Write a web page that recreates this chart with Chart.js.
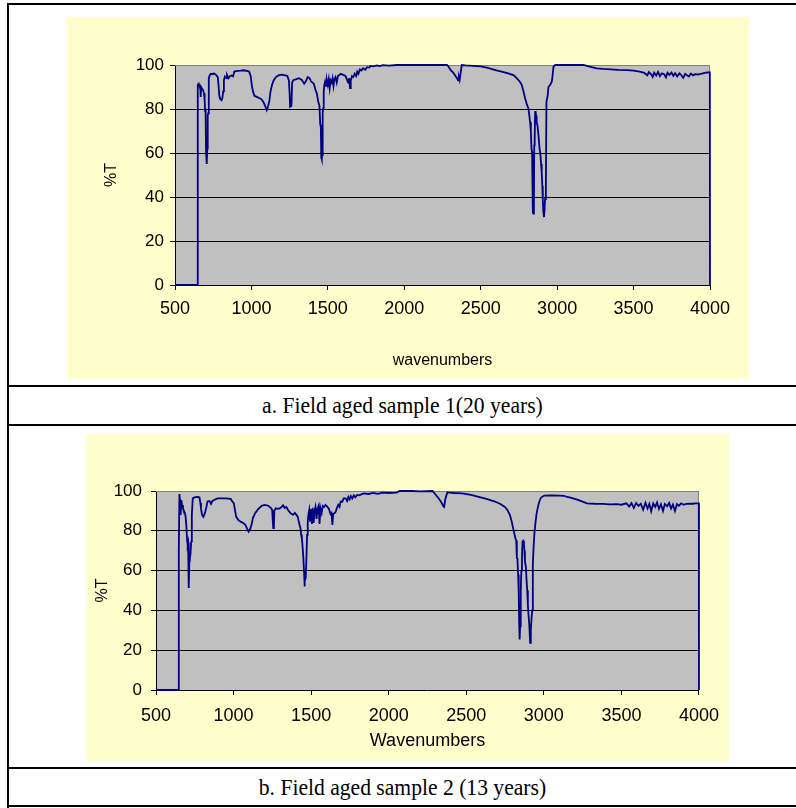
<!DOCTYPE html>
<html>
<head>
<meta charset="utf-8">
<script src="https://cdn.jsdelivr.net/npm/chart.js@4"></script>
<style>
body { margin: 0; background: #fff; width: 796px; height: 808px; position: relative; overflow: hidden; }
.hline { position: absolute; background: #000; height: 2px; left: 7px; width: 789px; }
.vline { position: absolute; background: #000; width: 2px; left: 7px; top: 3px; height: 805px; }
.caption { position: absolute; left: 9px; width: 787px; text-align: center; font-family: "Liberation Serif", "Times New Roman", serif; font-size: 24px; color: #000; transform: scaleX(0.9); transform-origin: 393px 0; }
canvas { position: absolute; background: #ffffcc; }
</style>
</head>
<body>
<div class="vline"></div>
<div class="hline" style="top:3px"></div>
<div class="hline" style="top:385px"></div>
<div class="hline" style="top:424px"></div>
<div class="hline" style="top:767px"></div>
<div class="hline" style="top:805px"></div>

<canvas id="chartA" width="682" height="362" style="left:67px; top:17px;"></canvas>
<div class="caption" style="top:387px; height:37px; line-height:37px;">a. Field aged sample 1(20 years)</div>

<canvas id="chartB" width="643" height="327" style="left:86px; top:434px;"></canvas>
<div class="caption" style="top:769px; height:36px; line-height:36px;">b. Field aged sample 2 (13 years)</div>

<script>
// Axis ticks
const xTicks = [500, 1000, 1500, 2000, 2500, 3000, 3500, 4000];
const yTicks = [0, 20, 40, 60, 80, 100];

// Sample 1 (20 years) - wavenumber / %T
const waveA = [500, 648, 649, 655, 662, 666, 668, 671, 678, 684, 690, 694, 697, 700, 703, 706, 709, 711, 714, 717,
  720, 722, 728, 735, 748, 755, 770, 780, 786, 790, 796, 804, 810, 815, 820, 826, 835, 840, 850, 860,
  870, 880, 888, 910, 930, 950, 970, 985, 995, 1002, 1010, 1020, 1035, 1050, 1065, 1080, 1092, 1100, 1110, 1118,
  1125, 1135, 1145, 1160, 1180, 1200, 1220, 1235, 1245, 1250, 1253, 1258, 1262, 1266, 1275, 1290, 1310, 1330, 1345, 1355,
  1368, 1380, 1390, 1400, 1408, 1418, 1428, 1438, 1445, 1450, 1454, 1457, 1460, 1463, 1466, 1470, 1473, 1477, 1482, 1488,
  1494, 1500, 1506, 1512, 1518, 1525, 1531, 1537, 1543, 1550, 1558, 1566, 1575, 1585, 1600, 1615, 1625, 1632, 1638, 1645,
  1650, 1658, 1667, 1675, 1685, 1692, 1700, 1710, 1720, 1730, 1745, 1755, 1770, 1780, 1800, 1820, 1840, 1860, 1900, 1950,
  2000, 2100, 2200, 2280, 2292, 2305, 2320, 2335, 2345, 2352, 2357, 2362, 2368, 2376, 2400, 2450, 2500, 2540, 2580, 2610,
  2650, 2690, 2714, 2735, 2755, 2768, 2778, 2790, 2800, 2812, 2818, 2823, 2828, 2832, 2836, 2840, 2842, 2845, 2848, 2850,
  2853, 2856, 2859, 2862, 2866, 2871, 2878, 2885, 2890, 2895, 2899, 2903, 2906, 2910, 2914, 2917, 2921, 2926, 2930, 2938,
  2943, 2955, 2965, 2970, 2976, 2987, 3050, 3100, 3172, 3200, 3259, 3300, 3350, 3400, 3456, 3500, 3540, 3570, 3590, 3600,
  3615, 3625, 3635, 3648, 3660, 3672, 3685, 3700, 3712, 3722, 3735, 3748, 3760, 3772, 3785, 3800, 3812, 3825, 3838, 3850,
  3862, 3875, 3890, 3905, 3920, 3940, 3960, 3980, 3999, 4000];
const transA = [0, 0, 91, 91.5, 90, 89, 85.5, 90, 89, 88.5, 87, 84, 79, 80, 61, 60, 55, 62, 77, 78,
  80, 94, 95.5, 96, 95.8, 96.2, 95.4, 94.5, 90, 86, 84.5, 84, 85, 88, 93, 94.7, 94, 95.5, 94, 95,
  95.2, 94.8, 97, 97.3, 97.4, 97.6, 97.3, 97, 95, 91, 88, 86, 85.5, 85, 84.5, 83, 81, 79.5, 81.5, 84,
  88, 91, 93, 94.5, 95.4, 95.6, 95.3, 95, 93, 87, 81, 81, 81.5, 92, 93.2, 93.5, 94, 93.2, 91.5, 92.5,
  94.5, 94, 92.5, 92, 91.5, 89, 87, 83, 81.5, 73, 72, 58, 57.2, 59, 78, 80.5, 88, 91, 92.5, 90.5,
  93, 91, 93.5, 89.5, 93, 92, 94, 90.5, 93.5, 94.5, 92, 95, 95.5, 96, 95.5, 95, 93.5, 92, 94, 89.5,
  93, 95, 94.5, 96, 95, 97, 96, 98, 97.5, 98.5, 97.8, 99, 98.8, 99.6, 99.4, 99.8, 99.5, 99.9, 99.7, 100,
  100, 100, 100, 100, 99, 97.5, 96.5, 95, 94, 93, 94.5, 93.2, 96, 100, 99.8, 99.6, 99.4, 98.8, 98, 97.4,
  96.8, 96, 95.4, 94, 92.5, 91, 88.5, 85, 82.5, 80.2, 77, 74, 70, 62, 60.5, 40, 33, 32.5, 34, 63.5,
  66, 78.7, 79, 77, 74, 72.6, 68, 62, 60, 55, 51.4, 45, 39, 33, 30.9, 33.5, 39, 40, 83.3, 86,
  90, 91, 92.4, 95, 99.2, 100, 100, 100, 100, 99.5, 98.5, 98.2, 98, 97.8, 97.7, 97.4, 97, 96.4, 95.3, 96.8,
  95.8, 94.6, 96.5, 95.2, 96.9, 94.9, 96.2, 95.8, 94.4, 96.5, 95.5, 96.6, 95.1, 96.3, 94.8, 96.2, 95.4, 94.2, 96, 95.3,
  94.8, 96.1, 95.3, 95.9, 95.6, 96, 96.3, 96.6, 96.6, 0];

// Sample 2 (13 years)
const waveB = [500, 644, 646, 648, 651, 655, 659, 663, 668, 674, 680, 686, 691, 696, 701, 704, 707, 710, 712, 715,
  718, 722, 727, 731, 737, 748, 765, 780, 786, 790, 797, 805, 811, 817, 825, 832, 845, 855, 864, 875,
  896, 920, 950, 981, 990, 1002, 1010, 1017, 1030, 1045, 1060, 1076, 1088, 1097, 1108, 1118, 1125, 1139, 1160, 1182,
  1200, 1224, 1240, 1249, 1252, 1256, 1260, 1263, 1271, 1285, 1298, 1310, 1319, 1330, 1340, 1351, 1365, 1375, 1383, 1395,
  1405, 1414, 1422, 1431, 1436, 1440, 1445, 1450, 1454, 1457, 1460, 1465, 1469, 1474, 1478, 1482, 1488, 1493, 1499, 1505,
  1510, 1516, 1522, 1528, 1535, 1541, 1548, 1554, 1560, 1568, 1575, 1584, 1592, 1605, 1615, 1625, 1631, 1637, 1642, 1650,
  1658, 1666, 1675, 1683, 1690, 1700, 1710, 1722, 1732, 1740, 1748, 1756, 1765, 1775, 1785, 1796, 1810, 1838, 1870, 1900,
  1930, 1960, 2000, 2050, 2071, 2150, 2200, 2283, 2304, 2320, 2336, 2345, 2350, 2357, 2365, 2378, 2420, 2473, 2530, 2580,
  2630, 2685, 2720, 2749, 2765, 2781, 2792, 2802, 2810, 2817, 2822, 2826, 2830, 2834, 2838, 2841, 2844, 2847, 2851, 2855,
  2859, 2862, 2866, 2872, 2875, 2878, 2884, 2889, 2893, 2897, 2901, 2906, 2909, 2912, 2916, 2921, 2925, 2929, 2934, 2940,
  2946, 2952, 2958, 2965, 2972, 2982, 3003, 3050, 3100, 3130, 3150, 3172, 3220, 3278, 3330, 3380, 3426, 3470, 3500, 3532,
  3550, 3565, 3580, 3595, 3610, 3625, 3640, 3655, 3668, 3680, 3692, 3705, 3718, 3730, 3742, 3755, 3768, 3780, 3795, 3808,
  3820, 3832, 3845, 3858, 3870, 3885, 3900, 3920, 3940, 3960, 3980, 3999, 4000];
const transB = [0, 0, 50, 70, 98.5, 95, 88, 95.5, 93, 91.3, 90, 89, 87, 82, 74.6, 73, 74, 60, 51.3, 65,
  66, 68, 74.6, 88, 96.3, 96.8, 97, 96.8, 94, 91.3, 88, 87, 88, 89.5, 92, 94.7, 95, 93.5, 95, 95.5,
  96.3, 96.3, 96.3, 96, 95, 93.8, 90, 87, 85.5, 84.6, 84, 83, 81, 79.6, 81, 83.8, 86.5, 88.8, 91, 92.6,
  93, 92.6, 91.5, 90.5, 86, 81.3, 82, 90, 91.3, 91, 91.3, 92, 92.8, 91.5, 92, 90.5, 89, 88.5, 88, 89,
  88, 87, 84, 81.3, 78, 76.3, 72, 66, 60, 52, 55, 56.3, 65, 78, 84, 88, 90.5, 85, 91, 83.5,
  91.5, 84, 90, 92, 86, 91, 92.5, 83.5, 91.5, 89, 92.5, 92, 93, 92, 91, 88.5, 89, 83, 88.5, 88.8,
  89.5, 91.5, 93, 92, 94.7, 94.5, 96.3, 96.3, 95, 97, 95.8, 97.4, 96.2, 97.8, 96.8, 98, 97.8, 98.8, 98.5, 99,
  98.6, 99.2, 99, 99.2, 100, 100, 99.8, 100, 98, 96.5, 94.7, 93.5, 92.5, 92, 96, 99.3, 99, 98.8, 98, 97,
  96, 94.7, 93.5, 92, 90.5, 88, 85, 81.3, 78.5, 76.3, 75, 66.3, 66, 58, 49.6, 33, 25.4, 32, 49.6, 60,
  66.3, 74.6, 75, 73, 70, 64.6, 62, 54.6, 50, 42.9, 38, 32.9, 28, 23.7, 30, 36.2, 40, 63, 72, 79.6,
  84, 88, 90.5, 93, 95, 96.7, 97.7, 97.8, 97.7, 97.6, 97, 96.7, 95.5, 93.8, 93.6, 93.5, 93.3, 93.4, 93.1, 93.8,
  92.2, 93.9, 91.5, 94, 92.5, 93.6, 90.6, 94.1, 91.2, 93.5, 89.8, 93.8, 92, 94.2, 91, 93.3, 90, 93.5, 92.3, 94,
  91.2, 93.2, 90, 93.4, 92.6, 93.8, 93.1, 93.5, 93.7, 93.6, 93.8, 93.8, 0];

// grey plot area + grey frame on top and right, like the old Excel look
const plotArea = {
  id: 'plotArea',
  beforeDraw(chart) {
    const { ctx, chartArea: a } = chart;
    ctx.save();
    ctx.fillStyle = '#c0c0c0';
    ctx.fillRect(a.left, a.top, a.right - a.left, a.bottom - a.top);
    ctx.restore();
  },
  beforeDatasetsDraw(chart) {
    const { ctx, chartArea: a } = chart;
    ctx.save();
    ctx.strokeStyle = '#808080';
    ctx.lineWidth = 1;
    ctx.beginPath();
    ctx.moveTo(a.left, a.top + 0.5);
    ctx.lineTo(a.right - 0.5, a.top + 0.5);
    ctx.lineTo(a.right - 0.5, a.bottom);
    ctx.stroke();
    ctx.restore();
  }
};

function makeChart(id, waves, trans, cfg) {
  const points = waves.map((w, i) => ({ x: w, y: trans[i] }));
  const fam = '"Liberation Sans", Arial, sans-serif';

  new Chart(document.getElementById(id), {
    type: 'line',
    data: {
      datasets: [{
        data: points,
        borderColor: '#000080',
        borderWidth: 1.8,
        pointRadius: 0,
        tension: 0,
        clip: false
      }]
    },
    options: {
      responsive: false,
      animation: false,
      devicePixelRatio: 1,
      layout: { padding: { top: cfg.top, right: cfg.right, left: 0, bottom: 0 } },
      plugins: { legend: { display: false }, tooltip: { enabled: false } },
      scales: {
        x: {
          type: 'linear',
          min: xTicks[0],
          max: xTicks[xTicks.length - 1],
          afterBuildTicks: s => { s.ticks = xTicks.map(v => ({ value: v })); },
          afterFit: s => { s.height = cfg.xHeight; },
          ticks: { color: '#000', font: { family: fam, size: 18 }, padding: cfg.xTickPad, maxRotation: 0, autoSkip: false, callback: v => String(v) },
          grid: { drawOnChartArea: false, tickLength: 5, tickColor: '#000' },
          border: { color: '#000', width: 1 },
          title: { display: true, text: cfg.xTitle, color: '#000', font: { family: fam, size: cfg.xTitleSize }, padding: { top: 0, bottom: cfg.xTitlePad } }
        },
        y: {
          min: 0,
          max: 100,
          afterBuildTicks: s => { s.ticks = yTicks.map(v => ({ value: v })); },
          afterFit: s => { s.width = cfg.yWidth; },
          ticks: { color: '#000', font: { family: fam, size: 17 }, padding: cfg.yTickPad, callback: v => String(v) },
          grid: {
            color: c => c.tick.value === 0 ? 'rgba(0,0,0,0)' : (c.tick.value === 100 ? '#808080' : '#000'),
            tickLength: 5,
            tickColor: '#000'
          },
          border: { color: '#000', width: 1 },
          title: { display: true, text: '%T', color: '#000', font: { family: fam, size: 16 }, padding: { top: cfg.yTitlePad, bottom: 0 } }
        }
      }
    },
    plugins: [plotArea]
  });
}

makeChart('chartA', waveA, transA, {
  top: 48, right: 39, yWidth: 108, xHeight: 94,
  yTickPad: 6, xTickPad: 8, yTitlePad: 35, xTitlePad: 9,
  xTitle: 'wavenumbers', xTitleSize: 16
});

makeChart('chartB', waveB, transB, {
  top: 57, right: 22, yWidth: 70, xHeight: 71,
  yTickPad: 9, xTickPad: 10, yTitlePad: 7, xTitlePad: 9,
  xTitle: 'Wavenumbers', xTitleSize: 18
});
</script>
</body>
</html>
